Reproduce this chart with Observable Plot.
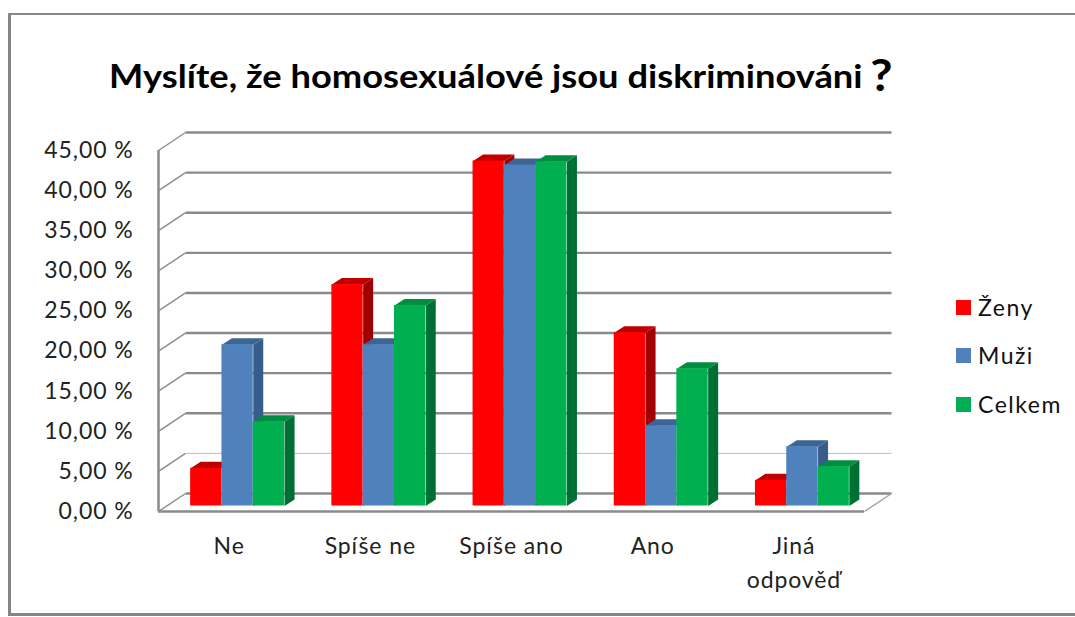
<!DOCTYPE html>
<html lang="cs">
<head>
<meta charset="utf-8">
<script src="https://cdn.jsdelivr.net/npm/d3@7"></script>
<script src="https://cdn.jsdelivr.net/npm/@observablehq/plot@0.6"></script>
<style>
  html, body { margin: 0; padding: 0; background: #fff; }
  #wrap { position: relative; width: 1075px; height: 617px; overflow: hidden; font-family: Lato, "Open Sans", sans-serif; color: #111; }
  #frame { position: absolute; left: 8px; top: 13px; right: -5px; height: 598px; border: solid #868686; border-width: 2px 0 3px 3px; }
  #title { position: absolute; left: 109px; top: 55px; font-size: 33px; font-weight: 700; white-space: nowrap; color: #000; transform: scaleX(1.1); transform-origin: left top; }
  #title .q { font-size: 44px; margin-left: 7px; line-height: 0; position: relative; top: 3px; }
  .leg { position: absolute; left: 956px; font-size: 23px; line-height: 24px; white-space: nowrap; letter-spacing: 1.5px; }
  .leg i { position: absolute; left: 0; top: 5px; width: 15px; height: 15px; }
  .leg span { margin-left: 22px; }
  svg { position: absolute; left: 0; top: 0; }
  svg text { letter-spacing: 0.9px; }
</style>
</head>
<body>
<div id="wrap"><div id="frame"></div></div>
<script>
const categories = ["Ne", "Spíše ne", "Spíše ano", "Ano", "Jiná\nodpověď"];
const seriesNames = ["Ženy", "Muži", "Celkem"];
const zeny = [4.7, 27.6, 43.0, 21.6, 3.2];
const muzi = [20.1, 20.1, 42.5, 10.0, 7.4];
const celkem = [10.5, 25.0, 42.9, 17.1, 4.9];
const yTicks = [0, 5, 10, 15, 20, 25, 30, 35, 40, 45];
const frontColors = ["#ff0000", "#4f81bd", "#00b050"];
const topColors = ["#c00000", "#3c6494", "#008d40"];
const sideColors = ["#a00000", "#385d8a", "#006f33"];

const W = 1075, H = 617, mL = 158, mR = 211, mT = 150, mB = 106;
const ux = 5 / (W - mL - mR), uy = 45 / (H - mT - mB);   // data units per pixel
const wallX = 27 * ux, wallY = 18 * uy;                  // depth of the floor
const baseX = 8.5 * ux, baseY = 5.5 * uy;                // bars stand inside the floor
const depX = 10 * ux, depY = 6.5 * uy;                   // depth of a bar
const barW = 31.3 * ux;
const values = [zeny, muzi, celkem];

function barFaces(s) {
  const front = [], side = [], top = [];
  categories.forEach((c, i) => {
    const v = values[s][i];
    const x1 = i + 0.5 + baseX + (s - 1.5) * barW, x2 = x1 + barW;
    const y0 = baseY, y1 = v + baseY;
    front.push({x1, x2, y1: y0, y2: y1});
    [[x2, y0], [x2 + depX, y0 + depY], [x2 + depX, y1 + depY], [x2, y1]].forEach(([x, y]) => side.push({id: i, x, y}));
    [[x1, y1], [x1 + depX, y1 + depY], [x2 + depX, y1 + depY], [x2, y1]].forEach(([x, y]) => top.push({id: i, x, y}));
  });
  return {front, side, top};
}

const gridColor = "#8a8a8a";
const gridWidth = v => v === 5 ? 1 : 2.4;
const gridStroke = v => v === 5 ? "#bdbdbd" : gridColor;

const barMarks = seriesNames.flatMap((name, s) => {
  const f = barFaces(s);
  return [
    Plot.line(f.side, {x: "x", y: "y", z: "id", fill: sideColors[s], stroke: "none"}),
    Plot.line(f.top, {x: "x", y: "y", z: "id", fill: topColors[s], stroke: "none"}),
    Plot.rect(f.front, {x1: "x1", x2: "x2", y1: "y1", y2: "y2", fill: frontColors[s], inset: 0})
  ];
});

const plot = Plot.plot({
  width: W, height: H,
  marginLeft: mL, marginRight: mR, marginTop: mT, marginBottom: mB,
  style: {background: "transparent", overflow: "visible"},
  x: {type: "linear", domain: [0, 5], axis: null},
  y: {type: "linear", domain: [0, 45], axis: null},
  marks: [
    // back wall grid and the slanted side wall
    ...yTicks.map(v => Plot.link([v], {x1: wallX, x2: 5 + wallX, y1: d => d + wallY, y2: d => d + wallY,
      stroke: gridStroke(v), strokeWidth: gridWidth(v)})),
    Plot.link(yTicks, {x1: 0, x2: wallX, y1: d => d, y2: d => d + wallY, stroke: "#8f8f8f", strokeWidth: 1.5}),
    // floor
    Plot.link([0], {x1: 5, x2: 5 + wallX, y1: 0, y2: wallY, stroke: "#a6a6a6", strokeWidth: 1.5}),
    Plot.ruleY([0], {stroke: "#8a8a8a", strokeWidth: 2.5}),
    Plot.ruleX([0], {y1: 0, y2: 45, stroke: "#8a8a8a", strokeWidth: 2.5}),
    ...barMarks,
    Plot.axisY({ticks: yTicks, tickSize: 0, tickPadding: 25, tickFormat: v => `${v},00 %`,
      fontSize: 23, fontFamily: "Lato", fill: "#222", label: null, anchor: "left"}),
    Plot.axisX({ticks: categories.map((c, i) => i + 0.5), tickSize: 0, tickPadding: 19,
      tickFormat: v => categories[Math.floor(v)], fontSize: 23, fontFamily: "Lato", fill: "#222",
      lineHeight: 1.45, label: null, anchor: "bottom"})
  ]
});

const wrap = document.getElementById("wrap");
wrap.appendChild(plot);

const title = document.createElement("div");
title.id = "title";
title.innerHTML = 'Myslíte, že homosexuálové jsou diskriminováni<span class="q">?</span>';
wrap.appendChild(title);

const legendTops = [295, 343, 392];
seriesNames.forEach((name, s) => {
  const row = document.createElement("div");
  row.className = "leg";
  row.style.top = legendTops[s] + "px";
  row.innerHTML = `<i style="background:${frontColors[s]}"></i><span>${name}</span>`;
  wrap.appendChild(row);
});
</script>
</body>
</html>
